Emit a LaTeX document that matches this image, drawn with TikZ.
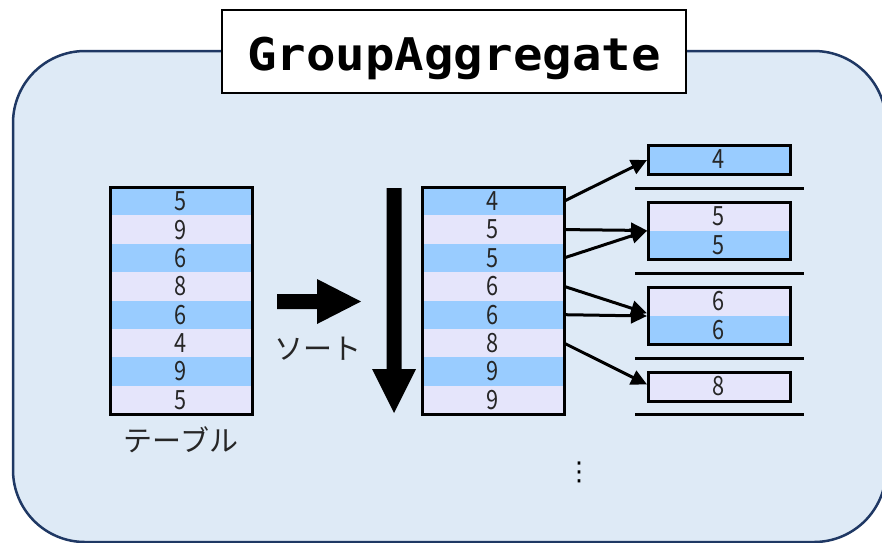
\documentclass[tikz,border=0pt]{standalone}
\usepackage{fontspec}
\newfontfamily\jpfont{Noto Sans CJK JP}
\newfontfamily\digitfont[FakeStretch=0.82]{Noto Sans CJK JP}
\newfontfamily\titlefont[FakeStretch=1.09]{DejaVu Sans Mono}
\newfontfamily\symfont{DejaVu Sans}
\usetikzlibrary{arrows.meta,fit}

\definecolor{panelbg}{HTML}{DEEAF6}
\definecolor{panelline}{HTML}{1F3864}
\definecolor{rowblue}{HTML}{99CCFF}
\definecolor{rowlav}{HTML}{E5E5FB}
\definecolor{digit}{HTML}{262626}

\begin{document}
\begin{tikzpicture}[x=1pt,y=-1pt,
  cell/.style={minimum width=142pt, minimum height=28.375pt, inner sep=0pt,
    outer sep=0pt, anchor=north west, text=digit,
    font=\digitfont\fontsize{26.5}{26.5}\selectfont},
  bluecell/.style={cell, fill=rowblue},
  lavcell/.style={cell, fill=rowlav},
  tableframe/.style={draw=black, line width=3pt, inner sep=0pt, outer sep=0pt},
  link/.style={line width=3pt, -{Triangle[length=16pt,width=15pt]}, shorten >=1pt},
  jplabel/.style={text=digit, inner sep=0pt, font=\jpfont\fontsize{29}{29}\selectfont},
  rule/.style={line width=3pt}
]
\useasboundingbox (0,0) rectangle (882,542);

% outer panel
\begin{scope}
  \clip (0,0) rectangle (882,542);
  \draw[fill=panelbg, draw=panelline, line width=2.5pt, rounded corners=72pt]
    (13,51) rectangle (886,542);
\end{scope}

% title
\node[draw=black, fill=white, line width=1.5pt, minimum width=464pt,
  minimum height=83pt, inner sep=0pt, text height=45pt, text depth=6.4pt,
  font=\titlefont\bfseries\fontsize{45}{45}\selectfont] (title) at (454,51.5)
  {GroupAggregate};

% input table
\node[bluecell] (a1) at (110,187) {5};
\node[lavcell]  (a2) at (110,215.375) {9};
\node[bluecell] (a3) at (110,243.75) {6};
\node[lavcell]  (a4) at (110,272.125) {8};
\node[bluecell] (a5) at (110,300.5) {6};
\node[lavcell]  (a6) at (110,328.875) {4};
\node[bluecell] (a7) at (110,357.25) {9};
\node[lavcell]  (a8) at (110,385.625) {5};
\node[tableframe, fit=(a1)(a8)] (intable) {};
\node[jplabel] (tablelabel) at (181,440) {テーブル};

% sort arrow and label
\fill (277,294) -- (317,294) -- (317,279) -- (361,301.5) -- (317,324)
  -- (317,309) -- (277,309) -- cycle;
\node[jplabel] (sortlabel) at (318,349) {ソート};

% downward arrow beside the sorted table
\fill (386.5,188) -- (401.5,188) -- (401.5,369) -- (416,369) -- (394,413)
  -- (372,369) -- (386.5,369) -- cycle;

% sorted table
\node[bluecell] (s1) at (422,187) {4};
\node[lavcell]  (s2) at (422,215.375) {5};
\node[bluecell] (s3) at (422,243.75) {5};
\node[lavcell]  (s4) at (422,272.125) {6};
\node[bluecell] (s5) at (422,300.5) {6};
\node[lavcell]  (s6) at (422,328.875) {8};
\node[bluecell] (s7) at (422,357.25) {9};
\node[lavcell]  (s8) at (422,385.625) {9};
\node[tableframe, fit=(s1)(s8)] (sorted) {};

% groups
\node[bluecell, minimum height=29pt] (g1a) at (648,145) {4};
\node[tableframe, fit=(g1a)] (g1) {};

\node[lavcell, minimum height=28.5pt]  (g2a) at (648,202) {5};
\node[bluecell, minimum height=28.5pt] (g2b) at (648,230.5) {5};
\node[tableframe, fit=(g2a)(g2b)] (g2) {};

\node[lavcell, minimum height=28.5pt]  (g3a) at (648,287) {6};
\node[bluecell, minimum height=28.5pt] (g3b) at (648,315.5) {6};
\node[tableframe, fit=(g3a)(g3b)] (g3) {};

\node[lavcell, minimum height=29pt] (g4a) at (648,372) {8};
\node[tableframe, fit=(g4a)] (g4) {};

% group separators
\draw[rule] (635,188) -- (804,188);
\draw[rule] (635,273) -- (804,273);
\draw[rule] (635,358) -- (804,358);
\draw[rule] (635,414) -- (804,414);

% rows routed to their groups
\draw[link] (s1.east) -- (g1.west);
\draw[link] (s2.east) -- (g2.west);
\draw[link] (s3.east) -- (g2.west);
\draw[link] (s4.east) -- ([yshift=2pt]g3.west);
\draw[link] (s5.east) -- ([yshift=-0.5pt]g3.west);
\draw[link] (s6.east) -- ([yshift=1.5pt]g4.west);

% continuation mark
\node[inner sep=0pt, font=\symfont\fontsize{26}{26}\selectfont] (more) at (579,472) {⋮};
\end{tikzpicture}
\end{document}
